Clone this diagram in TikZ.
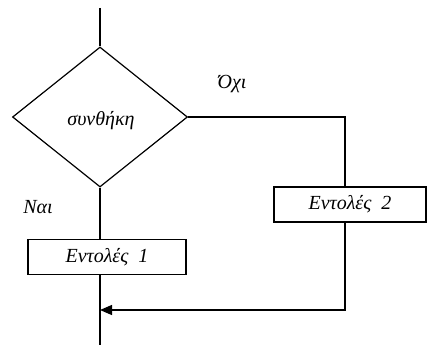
\documentclass[tikz,border=0pt]{standalone}
\usepackage{fontspec}
\setmainfont{Liberation Serif}
\usetikzlibrary{shapes.geometric, positioning, arrows.meta, calc}

\begin{document}
\begin{tikzpicture}[
    x=1pt, y=-1pt,
    condnode/.style={
        diamond,
        draw,
        line width=1.2pt,
        inner sep=0pt,
        aspect=1.25,
        minimum width=175pt,
        minimum height=140pt,
        font=\fontsize{20}{22}\selectfont\itshape
    },
    cmdnode/.style={
        rectangle,
        draw,
        line width=1.2pt,
        inner sep=0pt,
        minimum height=35pt,
        font=\fontsize{20}{22}\selectfont\itshape
    },
    lbl/.style={
        inner sep=0pt,
        font=\fontsize{20}{22}\selectfont\itshape
    },
    flow/.style={
        line width=1.2pt
    },
    ptr/.style={
        flow,
        >={Triangle[length=12pt, width=10pt]},
        ->
    }
]
    \useasboundingbox (0,0) rectangle (427,345);

    % Nodes
    \node[condnode] (nodeCond) at (100,117) {};
    \node[lbl] (txtCond) at (101,121) {συνθήκη};
    \node[cmdnode, minimum width=158pt] (nodeA) at (107,257) {Εντολές\ \ 1};
    \node[cmdnode, minimum width=152pt] (nodeB) at (350,204.5) {Εντολές\ \ 2};

    % Branch labels
    \node[lbl] (lblNo) at (232,84) {Όχι};
    \node[lbl] (lblYes) at (38,207) {Ναι};

    % Free ends and the turning point of the else branch
    \coordinate (top) at (100,8);
    \coordinate (bottom) at (100,345);
    \coordinate (back) at (345,310);

    % Yes branch
    \draw[flow] (top) -- (nodeCond.north);
    \draw[flow] (nodeCond.south) -- (nodeCond.south |- nodeA.north);
    \draw[flow] (nodeCond.south |- nodeA.south) -- (bottom);

    % No branch, joining the main line again
    \draw[flow] (nodeCond.east) -| (back |- nodeB.north);
    \draw[ptr] (back |- nodeB.south) -- (back) -- (back -| nodeCond.south);

\end{tikzpicture}
\end{document}
